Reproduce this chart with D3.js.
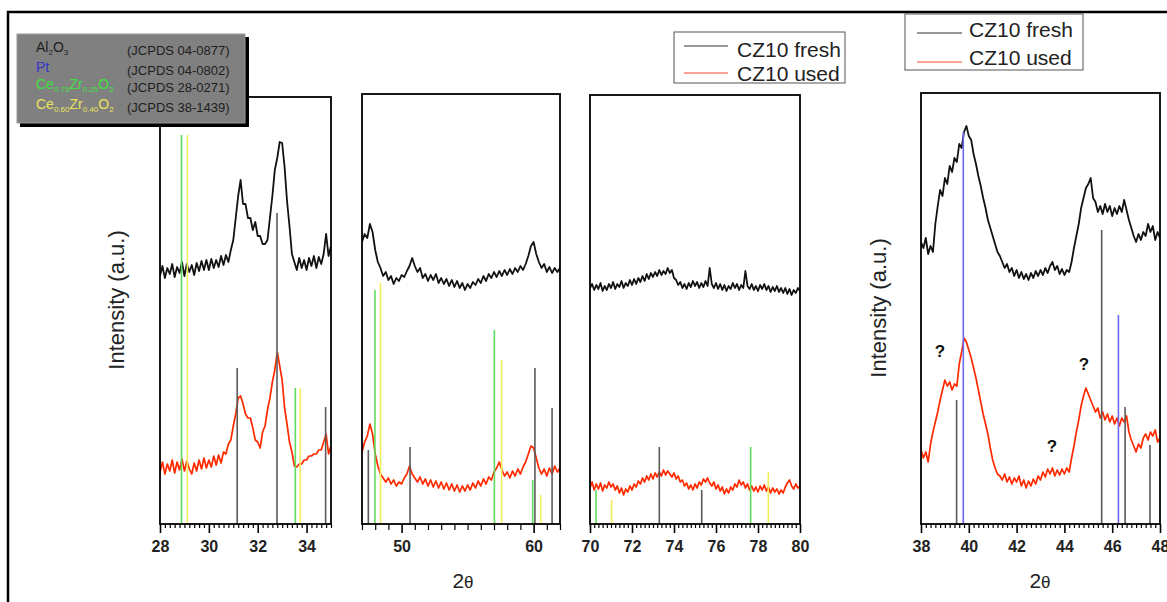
<!DOCTYPE html>
<html><head><meta charset="utf-8">
<script src="https://cdn.jsdelivr.net/npm/d3@7"></script>
<style>
body{margin:0;background:#fff}
svg{display:block}
text{font-family:"Liberation Sans",Arial,sans-serif}
</style>
</head><body>
<svg id="c" width="1167" height="602"></svg>
<script>
// ---------- DATA ----------
// Panel 1: 2θ 28–35, step 0.1
const p1Start = 28, p1Step = 0.1;
const p1Fresh = [248,258,246,256,250,260,247,257,251,262, 248,260,252,259,249,261,253,263,254,264,
 254,265,256,264,257,268,259,269,262,274, 284,306,328,344,320,320,306,306,294,302,
 288,288,280,280,284,306,328,354,366,382, 381,357,323,298,270,262,254,266,256,264,
 254,266,258,268,256,267,260,270,290,268, 278];
const p1Used = [52,62,50,60,53,64,51,62,54,65, 53,63,55,50,61,53,64,55,66,56,
 64,57,68,59,69,61,72,70,80,84, 98,110,126,128,120,110,106,106,96,84,
 82,76,92,98,114,126,142,154,172,158, 144,116,100,82,72,58,57,60,60,64,
 64,68,68,70,70,74,74,82,90,70, 78];
// Panel 2: 2θ 47–62, step 0.2
const p2Start = 47, p2Step = 0.2;
const p2Fresh = [282,290,286,300,292,274,262,256,248,252, 244,248,240,246,243,249,247,253,258,266,
 258,252,256,246,250,243,249,244,250,241, 246,240,245,238,244,237,243,236,241,234,
 240,236,242,239,245,241,248,243,250,246, 252,247,253,248,254,249,255,250,256,252,
 258,254,260,268,278,282,270,262,256,260, 252,257,251,256,252,256];
const p2Used = [72,82,88,100,90,70,58,50,46,42, 46,40,44,38,42,40,46,50,58,50,
 46,42,47,40,45,38,44,37,43,36, 42,35,41,34,40,33,39,32,38,33,
 39,34,41,36,43,38,45,40,47,44, 52,56,62,54,48,52,46,53,48,55,
 50,57,62,70,78,76,66,56,50,55, 48,56,50,58,52,56];
// Panel 3: 2θ 70–80, step 0.1
const p3Start = 70, p3Step = 0.1;
const p3Fresh = [236,240,234,239,235,241,233,238,234,240, 236,242,235,240,237,243,236,241,238,244,
 239,245,240,246,242,248,243,250,245,251, 247,252,248,254,249,253,250,256,251,254,
 246,244,239,242,236,240,235,241,237,243, 238,242,236,241,237,243,238,256,240,236,
 241,235,240,234,239,233,238,235,241,236, 240,234,239,236,253,238,235,240,234,238,
 233,239,235,240,234,238,232,237,233,238, 232,236,231,236,230,235,229,234,231,236, 233];
const p3Used = [36,42,34,40,35,41,33,39,36,42, 37,40,34,38,31,36,29,35,32,38,
 34,40,37,43,40,46,42,48,44,50, 45,51,47,52,48,54,49,53,50,47,
 51,45,48,42,44,38,41,35,39,34, 40,36,42,39,45,42,46,41,38,42,
 35,39,33,37,30,35,31,37,34,40, 37,44,39,42,36,40,34,38,33,37,
 32,38,34,39,33,37,31,36,32,35, 30,34,31,37,41,44,38,35,40,36, 38];
// Panel 4: 2θ 38–48, step 0.1
const p4Start = 38, p4Step = 0.1;
const p4Fresh = [282,276,286,270,278,272,300,318,334,328, 346,340,358,352,366,362,380,376,392,398,
 388,384,370,360,348,338,326,316,304,296, 288,280,272,268,262,256,260,252,256,248,
 254,246,252,245,250,244,251,246,253,248, 254,249,256,251,258,262,254,258,250,255,
 249,254,252,262,276,288,300,316,326,336, 340,346,326,322,312,318,310,320,312,318,
 308,316,310,318,312,324,314,304,296,288, 282,290,284,292,288,300,292,298,284,292, 286];
const p4Used = [74,66,72,62,80,92,102,112,124,134, 144,138,142,134,140,138,160,172,186,182,
 174,166,156,146,134,122,110,100,90,76, 64,56,50,48,44,50,42,47,40,46,
 42,48,38,44,36,43,38,45,40,48, 44,52,47,55,50,56,48,54,49,55,
 50,56,52,66,78,92,104,118,128,136, 130,124,118,112,116,106,112,104,110,102,
 108,100,106,98,106,102,108,92,84,78, 72,80,76,86,90,84,92,88,94,82, 86];

// Reference (JCPDS) lines: [panel, 2θ, height]
const al2o3Lines = [[0,31.16,156],[0,32.79,311],[0,34.78,117],[1,47.48,74],[1,50.64,77],[1,60.1,156],[1,61.4,116],
 [2,73.3,77],[2,75.32,34],[3,39.49,124],[3,45.56,294],[3,46.54,117],[3,47.58,79]];
const ptLines = [[3,39.77,392],[3,46.26,209]];
const ce75Lines = [[0,28.88,389],[0,33.54,136],[1,47.98,234],[1,57.03,194],[1,59.93,44],[2,70.29,34],[2,77.65,77]];
const ce60Lines = [[0,29.12,389],[0,33.74,136],[1,48.4,241],[1,57.58,164],[1,60.54,29],[2,71.03,24],[2,78.49,52]];

// Tick labels
const p1Major = [28,30,32,34];
const p2Major = [50,60];
const p3Major = [70,72,74,76,78,80];
const p4Major = [38,40,42,44,46,48];

const seriesNames = ["CZ10 fresh","CZ10 used"];

// ---------- DRAW ----------
const svg = d3.select("#c");
const y = d3.scaleLinear().domain([0,430]).range([524,94]);
const bottom = 524;

const panels = [
 {dom:[28,35], r:[160,331], top:97, major:p1Major, minor:0.2, start:p1Start, step:p1Step, fresh:p1Fresh, used:p1Used},
 {dom:[47,62], r:[362,560], top:94, major:p2Major, minor:1, start:p2Start, step:p2Step, fresh:p2Fresh, used:p2Used},
 {dom:[70,80], r:[590,800], top:95, major:p3Major, minor:0.2, start:p3Start, step:p3Step, fresh:p3Fresh, used:p3Used},
 {dom:[38,48], r:[921,1160], top:93, major:p4Major, minor:0.2, start:p4Start, step:p4Step, fresh:p4Fresh, used:p4Used}
];

// outer frame
svg.append("path").attr("d","M8,602 L8,12 L1167,12").attr("fill","none").attr("stroke","#000").attr("stroke-width",2.5);

const defs = svg.append("defs");
const refSets = [
 {lines:al2o3Lines, color:"#5a5a5a"},
 {lines:ce75Lines, color:"#5fdc5f"},
 {lines:ce60Lines, color:"#f0ee5a"},
 {lines:ptLines, color:"#6a6af0"}
];

panels.forEach((p,i)=>{
  const x = d3.scaleLinear().domain(p.dom).range(p.r);
  defs.append("clipPath").attr("id","cp"+i).append("rect")
    .attr("x",p.r[0]).attr("y",p.top).attr("width",p.r[1]-p.r[0]).attr("height",bottom-p.top);
  const g = svg.append("g").attr("clip-path","url(#cp"+i+")");
  const line = d3.line().x((d,k)=>x(p.start+k*p.step)).y(d=>y(d));
  g.append("path").datum(p.fresh).attr("d",line).attr("fill","none").attr("stroke","#111").attr("stroke-width",1.8).attr("stroke-linejoin","round");
  g.append("path").datum(p.used).attr("d",line).attr("fill","none").attr("stroke","#ff2a00").attr("stroke-width",1.7).attr("stroke-linejoin","round");
  refSets.forEach(s=>{
    g.selectAll(null).data(s.lines.filter(l=>l[0]===i)).enter().append("line")
      .attr("x1",d=>x(d[1])).attr("x2",d=>x(d[1]))
      .attr("y1",bottom).attr("y2",d=>y(d[2]))
      .attr("stroke",s.color).attr("stroke-width",1.6);
  });
  svg.append("rect").attr("x",p.r[0]).attr("y",p.top).attr("width",p.r[1]-p.r[0]).attr("height",bottom-p.top)
    .attr("fill","none").attr("stroke","#000").attr("stroke-width",1.8);
  const n = Math.round((p.dom[1]-p.dom[0])/p.minor);
  const minorVals = d3.range(n+1).map(k=>+(p.dom[0]+k*p.minor).toFixed(3)).filter(v=>!p.major.includes(v));
  const gm = svg.append("g").attr("transform","translate(0,"+bottom+")")
    .call(d3.axisBottom(x).tickValues(minorVals).tickSize(p.minor===1?6:4).tickFormat(""));
  gm.select(".domain").remove();
  gm.selectAll("line").attr("stroke","#000").attr("stroke-width",1.2);
  const ga = svg.append("g").attr("transform","translate(0,"+bottom+")")
    .call(d3.axisBottom(x).tickValues(p.major).tickSize(9).tickPadding(8).tickFormat(d3.format("d")));
  ga.select(".domain").remove();
  ga.selectAll("line").attr("stroke","#000").attr("stroke-width",1.6);
  ga.selectAll("text").attr("font-size",16).attr("font-weight","bold").attr("fill","#222")
    .attr("font-family","'Liberation Sans',Arial,sans-serif");
});

// axis titles
function yTitle(cx,cy){
  svg.append("text").attr("transform","translate("+cx+","+cy+") rotate(-90)")
    .attr("text-anchor","middle").attr("font-size",22).attr("fill","#222").text("Intensity (a.u.)");
}
yTitle(124,300);
yTitle(886,308);
function xTitle(cx,cy){
  const t = svg.append("text").attr("x",cx).attr("y",cy).attr("text-anchor","middle").attr("fill","#222").attr("font-size",21);
  t.append("tspan").text("2");
  t.append("tspan").attr("font-size",17).text("θ");
}
xTitle(463,588);
xTitle(1040,588);

// question marks
[[940,357],[1084,370],[1052,452]].forEach(q=>{
  svg.append("text").attr("x",q[0]).attr("y",q[1]).attr("text-anchor","middle")
    .attr("font-size",17).attr("font-weight","bold").attr("fill","#111").text("?");
});

// series legends
function seriesLegend(bx,by,bw,bh,x1,x2,tx,rows){
  svg.append("rect").attr("x",bx).attr("y",by).attr("width",bw).attr("height",bh)
    .attr("fill","#fff").attr("stroke","#555").attr("stroke-width",1);
  const cols = ["#333","#ff4a30"];
  rows.forEach((r,k)=>{
    svg.append("line").attr("x1",x1).attr("x2",x2).attr("y1",r[0]).attr("y2",r[0]).attr("stroke",cols[k]).attr("stroke-width",1.2);
    svg.append("text").attr("x",tx).attr("y",r[1]).attr("font-size",21).attr("fill","#222").text(seriesNames[k]);
  });
}
seriesLegend(674,32,171,51,684,728,737,[[46,57],[73,81]]);
seriesLegend(905,14,178,56,917,962,969,[[33,37],[62,65]]);

// phase legend (grey box with shadow)
svg.append("rect").attr("x",20).attr("y",37).attr("width",229).attr("height",90).attr("fill","#000");
svg.append("rect").attr("x",17).attr("y",34).attr("width",228).attr("height",89).attr("fill","#808080").attr("stroke","#9a9a9a").attr("stroke-width",1);
const phases = [
 {parts:[["Al",0],["2",1],["O",0],["3",1]], color:"#1e1e1e", card:"(JCPDS 04-0877)", yb:55},
 {parts:[["Pt",0]], color:"#3535c8", card:"(JCPDS 04-0802)", yb:75},
 {parts:[["Ce",0],["0.75",1],["Zr",0],["0.25",1],["O",0],["2",1]], color:"#3fe03f", card:"(JCPDS 28-0271)", yb:92},
 {parts:[["Ce",0],["0.60",1],["Zr",0],["0.40",1],["O",0],["2",1]], color:"#e9e35a", card:"(JCPDS 38-1439)", yb:112}
];
phases.forEach(ph=>{
  const t = svg.append("text").attr("x",36).attr("y",ph.yb).attr("fill",ph.color).attr("font-size",14);
  ph.parts.forEach(pt=>{
    if(pt[1]) t.append("tspan").attr("font-size",8).attr("dy",3).text(pt[0]);
    else t.append("tspan").attr("dy",t.selectAll("tspan").size()?-3:0).text(pt[0]);
  });
  svg.append("text").attr("x",127).attr("y",ph.yb).attr("fill","#1e1e1e").attr("font-size",13).text(ph.card);
});
</script>
</body></html>
